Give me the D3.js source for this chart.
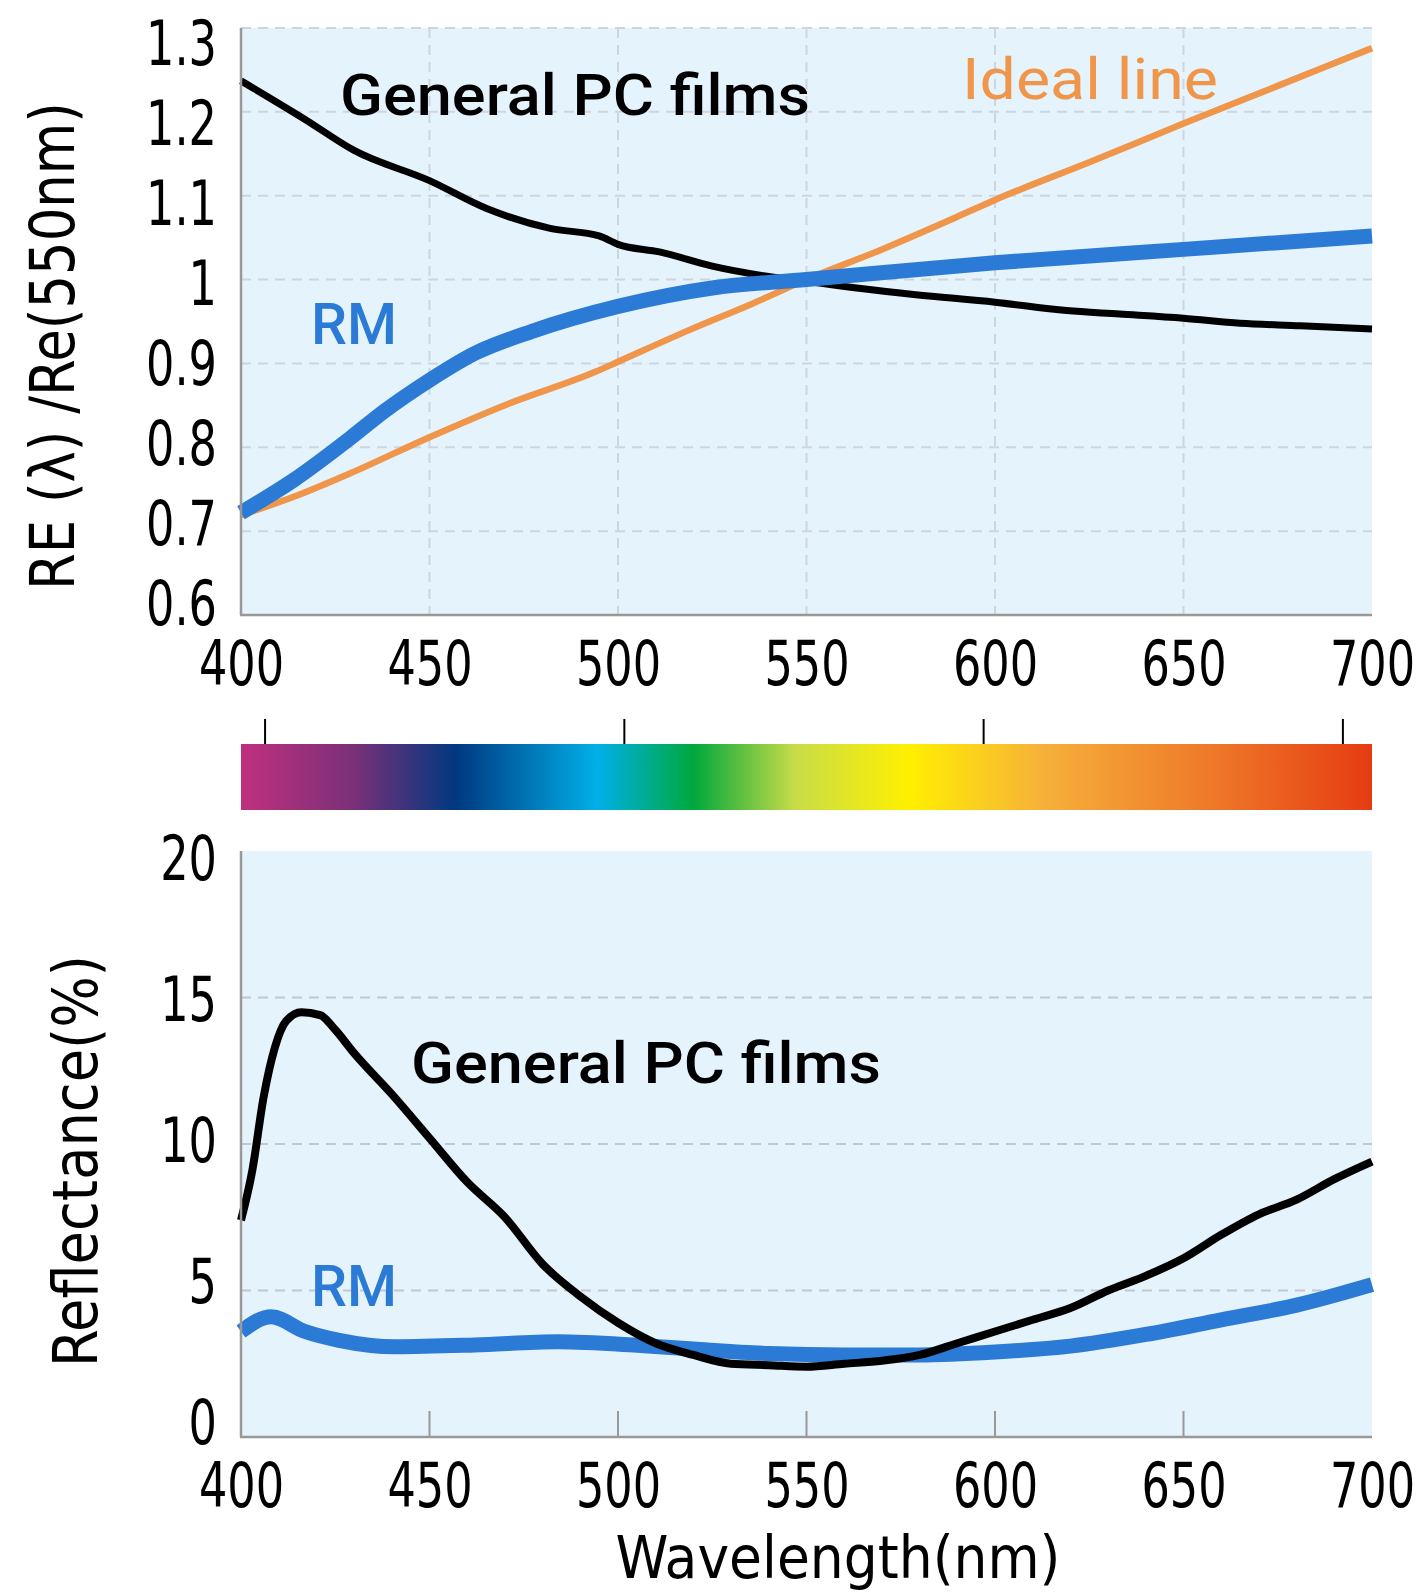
<!DOCTYPE html>
<html>
<head>
<meta charset="utf-8">
<script src="https://cdn.jsdelivr.net/npm/d3@7"></script>
<style>
  body { margin: 0; background: #fff; }
  text { font-family: "Liberation Sans Narrow", "DejaVu Sans Condensed", sans-serif; }
  .lbl { font-family: Roboto, "Noto Sans", sans-serif; }
</style>
</head>
<body>
<svg id="chart"></svg>
<script>
var w = 1420;
var h = 1594;

// wavelengths and values
var reWave    = [400, 417, 430, 450, 465, 482, 495, 500, 511, 525, 538, 550, 565, 579, 600, 619, 633, 650, 665, 681, 700];
var rePC      = [1.237, 1.191, 1.154, 1.118, 1.085, 1.061, 1.052, 1.042, 1.033, 1.016, 1.005, 0.998, 0.989, 0.982, 0.973, 0.963, 0.959, 0.954, 0.948, 0.945, 0.941];
var idealWave = [400, 414, 429, 450, 471, 494, 500, 519, 535, 550, 570, 590, 600, 625, 650, 675, 700];
var reIdeal   = [0.719, 0.741, 0.769, 0.812, 0.852, 0.890, 0.902, 0.940, 0.970, 1.0, 1.036, 1.075, 1.095, 1.140, 1.186, 1.231, 1.276];
var rmWave    = [400, 414, 429, 438, 450, 462, 477, 500, 525, 550, 600, 650, 700];
var reRM      = [0.722, 0.761, 0.811, 0.843, 0.880, 0.912, 0.938, 0.968, 0.990, 1.0, 1.020, 1.036, 1.052];

var refWave = [400, 403, 406, 409, 412, 416, 421, 425, 430, 440, 450, 460, 470, 480, 490, 500, 510, 520, 530, 540, 550, 560, 570, 580, 590, 600, 610, 620, 630, 640, 650, 660, 670, 680, 690, 700];
var refPC   = [7.4, 9.1, 11.6, 13.3, 14.2, 14.5, 14.4, 13.9, 13.1, 11.7, 10.2, 8.7, 7.5, 5.9, 4.8, 3.9, 3.2, 2.8, 2.5, 2.45, 2.4, 2.5, 2.6, 2.8, 3.2, 3.6, 4.0, 4.4, 5.0, 5.5, 6.1, 6.9, 7.6, 8.1, 8.8, 9.4];
var rmRefWave = [400, 408, 417, 426, 441, 462, 484, 506, 520, 540, 560, 580, 600, 620, 640, 660, 680, 700];
var refRM     = [3.6, 4.1, 3.6, 3.3, 3.08, 3.14, 3.25, 3.12, 3.0, 2.85, 2.8, 2.8, 2.9, 3.1, 3.5, 4.0, 4.5, 5.2];

var xTicks = [400, 450, 500, 550, 600, 650, 700];
var reTicks = [0.6, 0.7, 0.8, 0.9, 1, 1.1, 1.2, 1.3];
var refTicks = [0, 5, 10, 15, 20];
var specTicks = [400, 500, 600, 700];
var specStops = [
  [0, "#c0307f"], [0.1, "#7a3078"], [0.19, "#003880"], [0.315, "#00b0e8"],
  [0.40, "#00a83c"], [0.49, "#c8dc48"], [0.59, "#fff000"], [0.71, "#f6b03a"],
  [0.86, "#ee7828"], [1, "#e53c12"]
];

var blue = "#2b7bd6", orange = "#f0964a", bg = "#e5f3fd", gridC = "#cdd6de", axC = "#999";

var svg = d3.select("#chart").attr("width", w).attr("height", h);

// squeeze tick labels to the narrow look of the original font
function narrow(sel) {
  sel.each(function() {
    var t = d3.select(this);
    t.attr("textLength", this.getComputedTextLength() * 0.8).attr("lengthAdjust", "spacingAndGlyphs");
  });
}

var x = d3.scaleLinear().domain([400, 700]).range([241, 1372]);

// ---------- top chart ----------
var y1 = d3.scaleLinear().domain([0.6, 1.3]).range([615, 28]);
var y1lab = d3.scaleLinear().domain([0.6, 1.3]).range([602, 42]);

svg.append("rect").attr("x", 241).attr("y", 28).attr("width", 1131).attr("height", 587).attr("fill", bg);

svg.append("g").selectAll("line").data(reTicks.slice(1)).enter().append("line")
  .attr("x1", 241).attr("x2", 1372)
  .attr("y1", function(d) { return y1(d); }).attr("y2", function(d) { return y1(d); })
  .attr("stroke", gridC).attr("stroke-width", 2).attr("stroke-dasharray", "10,7");
svg.append("g").selectAll("line").data(xTicks.slice(1, -1)).enter().append("line")
  .attr("x1", function(d) { return x(d); }).attr("x2", function(d) { return x(d); })
  .attr("y1", 28).attr("y2", 615)
  .attr("stroke", gridC).attr("stroke-width", 2).attr("stroke-dasharray", "10,7");

var line1 = d3.line().curve(d3.curveMonotoneX)
  .x(function(d) { return x(d[0]); }).y(function(d) { return y1(d[1]); });

svg.append("path").datum(d3.zip(idealWave, reIdeal)).attr("d", line1)
  .attr("fill", "none").attr("stroke", orange).attr("stroke-width", 6.5);
svg.append("path").datum(d3.zip(reWave, rePC)).attr("d", line1)
  .attr("fill", "none").attr("stroke", "#000").attr("stroke-width", 7);
svg.append("path").datum(d3.zip(rmWave, reRM)).attr("d", line1)
  .attr("fill", "none").attr("stroke", blue).attr("stroke-width", 15);

// axes lines
svg.append("line").attr("x1", 241).attr("x2", 241).attr("y1", 28).attr("y2", 615).attr("stroke", axC).attr("stroke-width", 2.5);
svg.append("line").attr("x1", 240).attr("x2", 1372).attr("y1", 615).attr("y2", 615).attr("stroke", axC).attr("stroke-width", 2.5);

var yAx1 = svg.append("g").attr("transform", "translate(217,0)")
  .call(d3.axisLeft(y1lab).tickValues(reTicks).tickSize(0).tickPadding(0)
    .tickFormat(function(d) { return d3.format("")(d); }));
yAx1.select(".domain").remove();
yAx1.selectAll("text").attr("font-size", 62).attr("fill", "#000").attr("dy", "0.36em")
  .style("font-family", '"Liberation Sans Narrow", "DejaVu Sans Condensed", sans-serif')
  .call(narrow);

var xAx1 = svg.append("g").attr("transform", "translate(0,640)")
  .call(d3.axisBottom(x).tickValues(xTicks).tickSize(0).tickPadding(0));
xAx1.select(".domain").remove();
xAx1.selectAll("text").attr("font-size", 62).attr("fill", "#000").attr("dy", "0.72em")
  .style("font-family", '"Liberation Sans Narrow", "DejaVu Sans Condensed", sans-serif')
  .call(narrow);

svg.append("text").attr("transform", "translate(74,346) rotate(-90)")
  .attr("text-anchor", "middle").attr("font-size", 62).attr("fill", "#000")
  .attr("textLength", 488).attr("lengthAdjust", "spacingAndGlyphs")
  .text("RE (λ) /Re(550nm)");

svg.append("text").attr("class", "lbl").attr("x", 340).attr("y", 115)
  .attr("font-size", 57).attr("font-weight", 500).attr("fill", "#000")
  .attr("textLength", 470).attr("lengthAdjust", "spacingAndGlyphs")
  .text("General PC films");
svg.append("text").attr("class", "lbl").attr("x", 962).attr("y", 99)
  .attr("font-size", 57).attr("font-weight", 400).attr("fill", orange)
  .attr("textLength", 256).attr("lengthAdjust", "spacingAndGlyphs")
  .text("Ideal line");
svg.append("text").attr("class", "lbl").attr("x", 311).attr("y", 344)
  .attr("font-size", 57).attr("font-weight", 500).attr("fill", blue)
  .attr("textLength", 86).attr("lengthAdjust", "spacingAndGlyphs")
  .text("RM");

// ---------- spectrum bar ----------
var spec = d3.scaleLinear().domain([393.3, 708.1]).range([241, 1372]);
var grad = svg.append("defs").append("linearGradient").attr("id", "spec")
  .attr("x1", "0%").attr("x2", "100%").attr("y1", "0%").attr("y2", "0%");
grad.selectAll("stop").data(specStops).enter().append("stop")
  .attr("offset", function(d) { return d[0]; }).attr("stop-color", function(d) { return d[1]; });
svg.append("rect").attr("x", 241).attr("y", 744).attr("width", 1131).attr("height", 66).attr("fill", "url(#spec)");
svg.append("g").selectAll("line").data(specTicks).enter().append("line")
  .attr("x1", function(d) { return spec(d); }).attr("x2", function(d) { return spec(d); })
  .attr("y1", 719).attr("y2", 744).attr("stroke", "#000").attr("stroke-width", 2);

// ---------- bottom chart ----------
var y2 = d3.scaleLinear().domain([0, 20]).range([1437, 851]);
var y2lab = d3.scaleLinear().domain([0, 20]).range([1421, 857]);

svg.append("rect").attr("x", 241).attr("y", 851).attr("width", 1131).attr("height", 586).attr("fill", bg);

svg.append("g").selectAll("line").data([5, 10, 15]).enter().append("line")
  .attr("x1", 241).attr("x2", 1372)
  .attr("y1", function(d) { return y2(d); }).attr("y2", function(d) { return y2(d); })
  .attr("stroke", "#c4c8cc").attr("stroke-width", 2).attr("stroke-dasharray", "10,7");
svg.append("g").selectAll("line").data(xTicks.slice(1, -1)).enter().append("line")
  .attr("x1", function(d) { return x(d); }).attr("x2", function(d) { return x(d); })
  .attr("y1", 1411).attr("y2", 1437)
  .attr("stroke", axC).attr("stroke-width", 2);

var line2 = d3.line().curve(d3.curveMonotoneX)
  .x(function(d) { return x(d[0]); }).y(function(d) { return y2(d[1]); });

svg.append("path").datum(d3.zip(rmRefWave, refRM)).attr("d", line2)
  .attr("fill", "none").attr("stroke", blue).attr("stroke-width", 15);
svg.append("path").datum(d3.zip(refWave, refPC)).attr("d", line2)
  .attr("fill", "none").attr("stroke", "#000").attr("stroke-width", 8);

svg.append("line").attr("x1", 241).attr("x2", 241).attr("y1", 851).attr("y2", 1437).attr("stroke", axC).attr("stroke-width", 2.5);
svg.append("line").attr("x1", 240).attr("x2", 1372).attr("y1", 1437).attr("y2", 1437).attr("stroke", axC).attr("stroke-width", 2.5);

var yAx2 = svg.append("g").attr("transform", "translate(217,0)")
  .call(d3.axisLeft(y2lab).tickValues(refTicks).tickSize(0).tickPadding(0));
yAx2.select(".domain").remove();
yAx2.selectAll("text").attr("font-size", 62).attr("fill", "#000").attr("dy", "0.36em")
  .style("font-family", '"Liberation Sans Narrow", "DejaVu Sans Condensed", sans-serif')
  .call(narrow);

var xAx2 = svg.append("g").attr("transform", "translate(0,1462)")
  .call(d3.axisBottom(x).tickValues(xTicks).tickSize(0).tickPadding(0));
xAx2.select(".domain").remove();
xAx2.selectAll("text").attr("font-size", 62).attr("fill", "#000").attr("dy", "0.72em")
  .style("font-family", '"Liberation Sans Narrow", "DejaVu Sans Condensed", sans-serif')
  .call(narrow);

svg.append("text").attr("transform", "translate(97,1161) rotate(-90)")
  .attr("text-anchor", "middle").attr("font-size", 62).attr("fill", "#000")
  .attr("textLength", 412).attr("lengthAdjust", "spacingAndGlyphs")
  .text("Reflectance(%)");
svg.append("text").attr("x", 838).attr("y", 1578)
  .attr("text-anchor", "middle").attr("font-size", 58).attr("fill", "#000")
  .attr("textLength", 445).attr("lengthAdjust", "spacingAndGlyphs")
  .text("Wavelength(nm)");

svg.append("text").attr("class", "lbl").attr("x", 411).attr("y", 1083)
  .attr("font-size", 57).attr("font-weight", 500).attr("fill", "#000")
  .attr("textLength", 470).attr("lengthAdjust", "spacingAndGlyphs")
  .text("General PC films");
svg.append("text").attr("class", "lbl").attr("x", 311).attr("y", 1306)
  .attr("font-size", 57).attr("font-weight", 500).attr("fill", blue)
  .attr("textLength", 86).attr("lengthAdjust", "spacingAndGlyphs")
  .text("RM");
</script>
</body>
</html>
